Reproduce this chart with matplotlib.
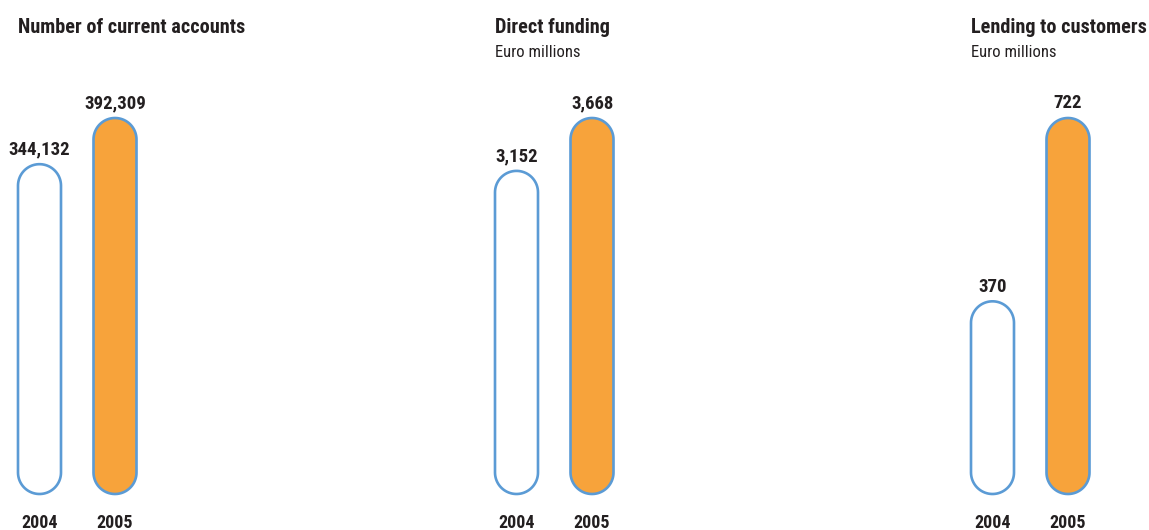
import numpy as np
from matplotlib import pyplot as plt
from matplotlib.patches import Polygon

years = ["2004", "2005"]
titles = ["Number of current accounts", "Direct funding", "Lending to customers"]
subtitles = ["", "Euro millions", "Euro millions"]
accounts = [344132, 392309]
funding = [3152, 3668]
lending = [370, 722]
labels = [["344,132", "392,309"], ["3,152", "3,668"], ["370", "722"]]

W, H = 1149, 530
BLUE = "#5B9BD5"
ORANGE = "#F7A33B"
INK = "#231F20"
FONT = ["Roboto Condensed", "DejaVu Sans"]

fig = plt.figure(figsize=(W / 100, H / 100), dpi=100)

# left edge (px) of each panel's first bar, bar spacing and width in px
lefts = [18, 495, 971]
step = 75.5
barw = 43
bottom_px, top_px = 494, 118


def pill(x, w, h, ry):
    # rectangle with semicircular ends (ry = radius in y data units)
    rx = w / 2
    cx = x + rx
    t = np.linspace(0, np.pi, 40)
    top = np.column_stack([cx + rx * np.cos(t), h - ry + ry * np.sin(t)])
    bot = np.column_stack([cx - rx * np.cos(t), ry - ry * np.sin(t)])
    return np.vstack([top, bot])


for i, vals in enumerate([accounts, funding, lending]):
    x0 = lefts[i] + barw / 2 - step / 2
    ax = fig.add_axes([x0 / W, (H - bottom_px) / H, 2 * step / W, (bottom_px - top_px) / H])
    ax.set_xlim(-0.5, 1.5)
    ax.set_ylim(0, max(vals))
    ax.axis("off")

    w = barw / step
    ypp = max(vals) / (bottom_px - top_px)  # data units per pixel in y
    bars = ax.bar(range(len(vals)), vals, width=w, alpha=0)
    for j, b in enumerate(bars):
        verts = pill(b.get_x(), b.get_width(), b.get_height(), barw / 2 * ypp)
        ax.add_patch(Polygon(verts, closed=True, fc="white" if j == 0 else ORANGE,
                             ec=BLUE, lw=1.9, clip_on=False, joinstyle="round"))
        ax.annotate(labels[i][j], (j, b.get_height()), xytext=(0, 4),
                    textcoords="offset points", ha="center", va="bottom",
                    fontsize=13.5, fontweight="bold", family=FONT, color=INK)
        fig.text((x0 + step / 2 + j * step) / W, 7 / H, years[j], ha="center",
                 va="center", fontsize=13, fontweight="bold", family=FONT, color=INK)

    fig.text(lefts[i] / W, 1 - 33 / H, titles[i], ha="left", va="baseline",
             fontsize=14.6, fontweight="bold", family=FONT, color=INK)
    if subtitles[i]:
        fig.text(lefts[i] / W, 1 - 57 / H, subtitles[i], ha="left", va="baseline",
                 fontsize=12, family=FONT, color=INK)

fig.savefig("out.png", dpi=100)
